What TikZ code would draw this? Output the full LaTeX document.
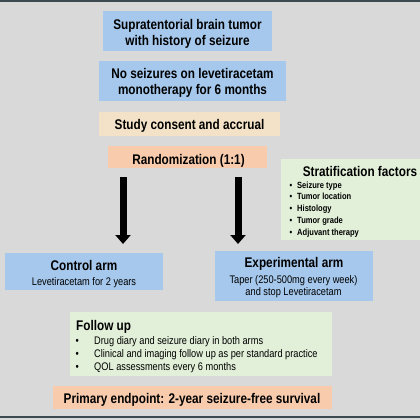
\documentclass[tikz,border=0pt]{standalone}
\usepackage{fontspec}
\setmainfont{Liberation Sans}[FakeStretch=0.84]
\usetikzlibrary{arrows.meta}
\definecolor{bg}{HTML}{D9D9D9}
\definecolor{bluebox}{HTML}{A5C8EC}
\definecolor{tanbox}{HTML}{F3E2C7}
\definecolor{salmon}{HTML}{F8CBAD}
\definecolor{greenbox}{HTML}{E2F0D9}
\definecolor{framecol}{HTML}{3E4A52}
\begin{document}
\begin{tikzpicture}[x=1pt,y=-1pt,
  box/.style={draw=none,inner sep=0pt,outer sep=0pt,anchor=north west},
  big/.style={inner sep=0pt,anchor=base,font=\bfseries\fontsize{14}{16}\selectfont},
  small/.style={inner sep=0pt,anchor=base,font=\fontsize{11}{12}\selectfont},
  strat/.style={inner sep=0pt,anchor=base west,font=\bfseries\fontsize{9}{10}\selectfont},
  fol/.style={inner sep=0pt,anchor=base west,font=\fontsize{11}{12}\selectfont},
  bigarrow/.style={line width=7pt,-{Triangle[width=15pt,length=9pt]}}]
\useasboundingbox (0,0) rectangle (420,420);
\clip (0,0) rectangle (420,420);
\fill[bg] (0,0) rectangle (420,420);
\draw[framecol,line width=1.6pt] (0,1.3) -- (420,1.3);
\draw[framecol,line width=1.6pt] (0,416.8) -- (420,416.8);
% boxes
\node[box,fill=bluebox,minimum width=169pt,minimum height=40pt] (b1) at (103,11) {};
\node[big] (b1t1) at (187.5,29.2) {Supratentorial brain tumor};
\node[big] (b1t2) at (187.5,45.5) {with history of seizure};
\node[box,fill=bluebox,minimum width=187pt,minimum height=40pt] (b2) at (99,61) {};
\node[big] (b2t1) at (192.5,78.6) {No seizures on levetiracetam};
\node[big] (b2t2) at (192.5,94.9) {monotherapy for 6 months};
\node[box,fill=tanbox,minimum width=181pt,minimum height=24pt] (b3) at (99,112) {};
\node[big] (b3t) at (189.5,129.9) {Study consent and accrual};
\node[box,fill=salmon,minimum width=159pt,minimum height=22pt] (rand) at (108,146) {};
\node[big] (randt) at (188.5,164.4) {Randomization (1:1)};
% stratification
\node[box,fill=greenbox,minimum width=150pt,minimum height=81pt] (st) at (281,159) {};
\node[big] (stt) at (360,176.7) {Stratification factors};
\foreach \t [count=\i] in {Seizure type,Tumor location,Histology,Tumor grade,Adjuvant therapy}{
  \node[strat] (sb\i) at (289.5,176.5+11.7*\i) {•};
  \node[strat] (si\i) at (297,176.5+11.7*\i) {\t};
}
% arms
\node[box,fill=bluebox,minimum width=158pt,minimum height=37pt] (ctrl) at (5,253) {};
\node[big] (ctrlt) at (84,270.5) {Control arm};
\node[small] (ctrls) at (84,285.3) {Levetiracetam for 2 years};
\node[box,fill=bluebox,minimum width=158pt,minimum height=50pt] (exp) at (215,251) {};
\node[big] (expt) at (294,267.7) {Experimental arm};
\node[small] (exps1) at (293.5,283) {Taper (250-500mg every week)};
\node[small] (exps2) at (293.5,295) {and stop Levetiracetam};
% arrows
\coordinate (a1s) at (123,177);
\coordinate (a1e) at (123,244);
\coordinate (a2s) at (238,177);
\coordinate (a2e) at (238,244);
\draw[bigarrow] (a1s) -- (a1e);
\draw[bigarrow] (a2s) -- (a2e);
% follow up
\node[box,fill=greenbox,minimum width=262pt,minimum height=64pt] (fu) at (70,312) {};
\node[big,anchor=base west] (fut) at (76,330) {Follow up};
\foreach \t [count=\i] in {Drug diary and seizure diary in both arms,Clinical and imaging follow up as per standard practice,QOL assessments every 6 months}{
  \node[fol] (fb\i) at (75.5,330.7+13.3*\i) {•};
  \node[fol] (fi\i) at (94,330.7+13.3*\i) {\t};
}
% primary
\node[box,fill=salmon,minimum width=279pt,minimum height=23pt] (pe) at (53,386) {};
\node[big] (pet) at (192,403) {Primary endpoint: 2-year seizure-free survival};
\end{tikzpicture}
\end{document}
